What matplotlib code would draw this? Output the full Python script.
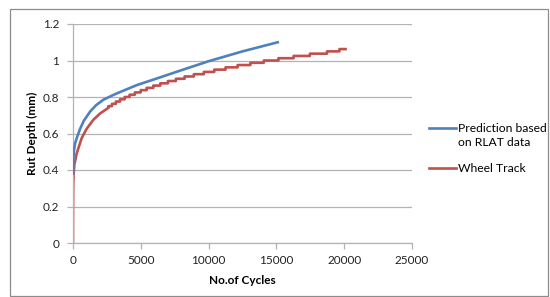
import numpy as np
import matplotlib.pyplot as plt
from matplotlib.patches import Rectangle
from matplotlib.lines import Line2D

# prediction based on RLAT data (cycles, rut depth mm)
pred_cycles = [0, 20, 60, 150, 300, 520, 800, 1260, 1700, 2240, 3000, 3500, 4700,
               6440, 8000, 10000, 12500, 15100]
pred_depth = [0.38, 0.45, 0.50, 0.545, 0.58, 0.625, 0.67, 0.72, 0.755, 0.785, 0.812,
              0.828, 0.865, 0.908, 0.947, 0.996, 1.05, 1.10]

# wheel track, smooth early part
wt_cycles = [0, 5, 20, 50, 100, 270, 640, 1000, 1500, 2000, 2600]
wt_depth = [0.0, 0.20, 0.32, 0.38, 0.43, 0.49, 0.575, 0.625, 0.675, 0.71, 0.74]
# wheel track, stepped part: cycle count where each reading level is reached
wt_step_cycles = [2610, 2870, 3160, 3470, 3810, 4170, 4560, 4990, 5430, 5920, 6440,
                  7000, 7590, 8230, 8910, 9650, 10420, 11250, 12140, 13080, 14070,
                  15150, 16270, 17470, 18730, 19650]
wt_step_depth = [0.75, 0.7625, 0.775, 0.7875, 0.80, 0.8125, 0.825, 0.8375, 0.85,
                 0.8625, 0.875, 0.8875, 0.90, 0.9125, 0.925, 0.9375, 0.95, 0.9625,
                 0.975, 0.9875, 1.0, 1.0125, 1.025, 1.0375, 1.05, 1.0625]
wt_end = 20100

# staircase: horizontal to next reading, then jump up
sx = np.repeat(wt_step_cycles, 2)
sy = np.repeat(wt_step_depth, 2)
red_x = np.concatenate([wt_cycles, sx, [wt_end]])
red_y = np.concatenate([wt_depth, np.r_[wt_depth[-1], sy[:-1]], [wt_step_depth[-1]]])

xticks = [0, 5000, 10000, 15000, 20000, 25000]
yticks = [0, 0.2, 0.4, 0.6, 0.8, 1, 1.2]
ytick_labels = ["0", "0.2", "0.4", "0.6", "0.8", "1", "1.2"]

blue = "#4F81BD"
red = "#C0504D"

plt.rcParams['font.family'] = ['Lato', 'DejaVu Sans']

fig = plt.figure(figsize=(5.5, 2.97), dpi=100)
ax = fig.add_axes([73 / 550, 1 - 243 / 297, 339 / 550, 219 / 297])

grid_col = "#b3b3b3"
ax.plot(pred_cycles, pred_depth, color=blue, lw=1.9, zorder=3)
ax.plot(red_x, red_y, color=red, lw=1.9, zorder=2)

ax.set_xlim(0, 25000)
ax.set_ylim(0, 1.2)
ax.set_xticks(xticks)
ax.set_xticklabels([str(t) for t in xticks])
ax.set_yticks(yticks)
ax.set_yticklabels(ytick_labels)
ax.grid(axis="y", color=grid_col, lw=0.9)
ax.set_axisbelow(True)
for s in ["top", "right"]:
    ax.spines[s].set_visible(False)
for s in ["left", "bottom"]:
    ax.spines[s].set_color(grid_col)
    ax.spines[s].set_linewidth(0.9)
ax.tick_params(axis="both", length=4, width=0.9, color=grid_col, labelsize=8.5, labelcolor="#222222")
ax.tick_params(axis="y", pad=6)
ax.tick_params(axis="x", pad=5)

ax.set_xlabel("No.of Cycles", fontsize=8.5, fontweight="bold", labelpad=6)
ax.set_ylabel("Rut Depth (mm)", fontsize=8.5, fontweight="bold", labelpad=3)

# legend, Excel style: key lined up with the first text line
def fx(px):
    return px / 550

def fy(py):
    return 1 - py / 297

fig.add_artist(Line2D([fx(429), fx(456)], [fy(128), fy(128)], color=blue, lw=1.9))
fig.add_artist(Line2D([fx(429), fx(456)], [fy(168), fy(168)], color=red, lw=1.9))
fig.text(fx(458), fy(128), "Prediction based", fontsize=8.7, va="center", ha="left")
fig.text(fx(458), fy(143), "on RLAT data", fontsize=8.7, va="center", ha="left")
fig.text(fx(458), fy(168), "Wheel Track", fontsize=8.7, va="center", ha="left")

fig.patches.append(Rectangle((10 / 550, 0.002), 538 / 550, 1 - 9 / 297 - 0.002,
                             transform=fig.transFigure, fill=False, ec="#8c8c8c", lw=0.9))

fig.savefig("out.png", dpi=100)
